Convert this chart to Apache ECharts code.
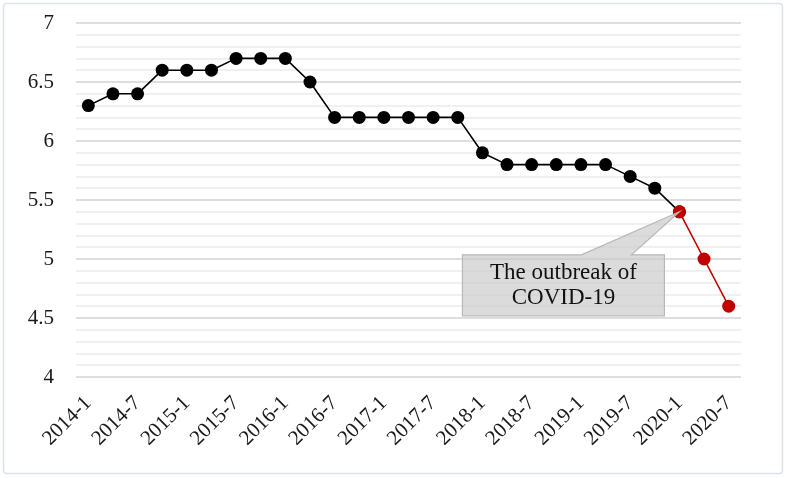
<!DOCTYPE html>
<html><head><meta charset="utf-8">
<script src="https://cdn.jsdelivr.net/npm/echarts@6/dist/echarts.min.js"></script>
<style>html,body{margin:0;padding:0;background:#fff}#c{width:787px;height:478px}</style>
</head><body><div id="c"></div>
<script>
const categories = ["2014-1","2014-4","2014-7","2014-10","2015-1","2015-4","2015-7","2015-10","2016-1","2016-4","2016-7","2016-10","2017-1","2017-4","2017-7","2017-10","2018-1","2018-4","2018-7","2018-10","2019-1","2019-4","2019-7","2019-10","2020-1","2020-4","2020-7"];
const values = [6.3,6.4,6.4,6.6,6.6,6.6,6.7,6.7,6.7,6.5,6.2,6.2,6.2,6.2,6.2,6.2,5.9,5.8,5.8,5.8,5.8,5.8,5.7,5.6,5.4,5.0,4.6];
const covidStart = "2020-1";
const annotationText = "The outbreak of\nCOVID-19";

const ci = categories.indexOf(covidStart);
const before = values.map((v,i)=> i<=ci ? v : null);
const after = values.map((v,i)=> i>=ci ? v : null);

const chart = echarts.init(document.getElementById('c'));
const font = "'Liberation Serif', 'Times New Roman', serif";
chart.setOption({
  animation:false,
  backgroundColor:'#fff',
  grid:{left:76,right:46,top:23,bottom:101},
  xAxis:{type:'category',data:categories,boundaryGap:true,
    axisLine:{show:false},axisTick:{show:false},
    axisLabel:{interval:1,rotate:45,color:'#1a1a1a',fontFamily:font,fontSize:21,margin:23}},
  yAxis:{type:'value',min:4,max:7,interval:0.5,
    axisLine:{show:false},axisTick:{show:false},
    axisLabel:{color:'#1a1a1a',fontFamily:font,fontSize:21,margin:22},
    splitLine:{lineStyle:{color:'#d3d3d3',width:1.5}},
    minorTick:{show:false,splitNumber:5},
    minorSplitLine:{show:true,lineStyle:{color:'#ececec',width:1.5}}},
  series:[
    {type:'line',data:before,symbol:'circle',symbolSize:13,
     itemStyle:{color:'#000'},lineStyle:{color:'#000',width:1.6},z:2},
    {type:'line',data:after,symbol:'circle',symbolSize:13,
     itemStyle:{color:'#c00000'},lineStyle:{color:'#c00000',width:1.6},z:3}
  ]
});
const p = chart.convertToPixel({gridIndex:0},[ci, values[ci]]);
const bx = p[0]-217, by = p[1]+43, bw = 202, bh = 61;
chart.setOption({graphic:[
  {type:'polygon',z:10,shape:{points:[[bx,by],[bx+119,by],[p[0],p[1]],[bx+169,by],[bx+bw,by],[bx+bw,by+bh],[bx,by+bh]]},
   style:{fill:'rgba(200,200,200,0.65)',stroke:'#b8b8b8',lineWidth:1.2}},
  {type:'text',z:11,x:bx+bw/2,y:by+bh/2,
   style:{text:annotationText,fill:'#111',font:"23px "+font,align:'center',verticalAlign:'middle',lineHeight:25}},
  {type:'rect',z:0,shape:{x:3.5,y:3.5,width:779,height:470,r:3},style:{fill:'none',stroke:'#dbe2ee',lineWidth:1.5}}
]});
</script></body></html>
